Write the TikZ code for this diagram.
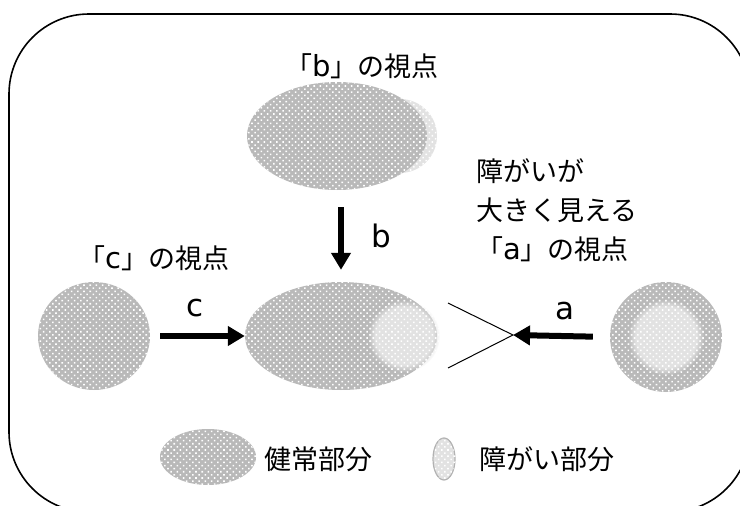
\documentclass[tikz,border=0pt]{standalone}
\usepackage{fontspec}
\setmainfont{Noto Sans CJK JP}
\newfontfamily\latfont{DejaVu Sans}
\usetikzlibrary{shapes.geometric,arrows.meta,patterns.meta,fadings}
\definecolor{basegray}{HTML}{B9B9B9}
\definecolor{lightbase}{HTML}{E2E2E2}
\newcommand{\lt}[1]{{\latfont\fontsize{29}{38}\selectfont #1}}
\tikzset{
  dotpat/.style={pattern={Dots[distance=4.4pt,radius=1.1pt,angle=45]},pattern color=white},
  healthy/.style={fill=basegray,postaction={dotpat}},
  weak/.style={fill=lightbase,postaction={dotpat}},
  shapebox/.style={ellipse,inner sep=0pt,draw=none},
  txt/.style={font=\fontsize{27}{39}\selectfont,inner sep=0pt},
  labtxt/.style={font=\latfont\fontsize{31}{38}\selectfont,inner sep=0pt},
  bigarrow/.style={line width=6pt,-{Triangle[length=17pt,width=19pt]}},
  thinline/.style={line width=1pt},
}
\begin{document}
\begin{tikzpicture}[x=1pt,y=-1pt]
\useasboundingbox (0,0) rectangle (740,506);
\clip (0,0) rectangle (740,506);
% frame
\draw[line width=1.6pt,rounded corners=80pt] (9,14) rectangle (750,512);

% top view (b)
\fill[weak] (400,136) circle[radius=37];
\node[shapebox,healthy,minimum width=180pt,minimum height=108pt] (te) at (337,136) {};

% center
\node[shapebox,healthy,minimum width=192pt,minimum height=108pt] (ce) at (341,336) {};
\fill[lightbase,path fading=circle with fuzzy edge 20 percent] (404,336) circle[radius=36];
\fill[dotpat] (404,336) circle[radius=36];

% left circle (c)
\node[shapebox,healthy,minimum width=112pt,minimum height=108pt] (lc) at (94,336) {};

% right circle (a)
\node[shapebox,healthy,minimum width=112pt,minimum height=110pt] (rc) at (666,337) {};
\fill[lightbase,path fading=circle with fuzzy edge 20 percent] (666,337) circle[radius=38];
\fill[dotpat] (666,337) circle[radius=38];

% texts
\node[txt] (tb) at (362,66) {「\lt{b}」の視点};
\node[txt] (tc) at (154,258) {「\lt{c}」の視点};
\node[txt,align=left,anchor=north west] (ta) at (476,158) {障がいが\\大きく見える\\「\lt{a}」の視点};

% arrows
\draw[bigarrow,shorten <=10pt] (lc.east) -- (ce.west);
\draw[bigarrow,shorten <=17pt,shorten >=12pt] (ce.north |- te.south) -- (ce.north);
\coordinate (vx) at (513,335);
\coordinate (vtop) at (448,303);
\coordinate (vbot) at (448,368);
\draw[bigarrow,shorten <=17pt] (rc.west) -- (vx);
\draw[thinline] (vtop) -- (vx) -- (vbot);

% labels
\node[labtxt] (lc1) at (195,308) {c};
\node[labtxt] (lb1) at (381,236) {b};
\node[labtxt] (la1) at (565,311) {a};

% legend
\node[shapebox,healthy,minimum width=96pt,minimum height=56pt] (lg1) at (208,457) {};
\node[txt,anchor=west] (lt1) at (264,459) {健常部分};
\node[shapebox,weak,draw=gray!60,line width=1.2pt,minimum width=22pt,minimum height=42pt] (lg2) at (444,459) {};
\node[txt,anchor=west] (lt2) at (479,459) {障がい部分};
\end{tikzpicture}
\end{document}
